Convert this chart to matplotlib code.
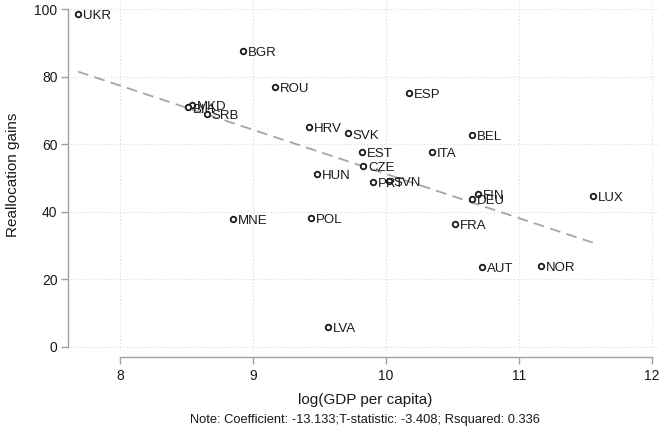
import numpy as np
import matplotlib
matplotlib.use("Agg")
import matplotlib.pyplot as plt

plt.rcParams['font.family'] = ['Liberation Sans', 'DejaVu Sans']

# country data: log GDP per capita vs reallocation gains
countries = ["UKR", "BGR", "ROU", "MKD", "BIH", "SRB", "ESP", "HRV", "SVK", "BEL",
             "EST", "ITA", "CZE", "HUN", "PRT", "SVN", "FIN", "DEU", "LUX", "MNE",
             "POL", "FRA", "AUT", "NOR", "LVA"]
log_gdp = [7.684, 8.925, 9.165, 8.539, 8.509, 8.652, 10.173, 9.421, 9.712, 10.647,
           9.822, 10.343, 9.830, 9.479, 9.900, 10.02, 10.689, 10.649, 11.554, 8.852,
           9.434, 10.519, 10.722, 11.165, 9.564]
gains = [98.5, 87.6, 76.9, 71.5, 70.9, 69.1, 75.1, 65.1, 63.2, 62.7,
         57.8, 57.6, 53.7, 51.3, 48.8, 49.2, 45.3, 43.8, 44.8, 37.8,
         38.1, 36.4, 23.8, 24.1, 6.0]

x = np.array(log_gdp)
y = np.array(gains)
slope, intercept = np.polyfit(x, y, 1)

fig = plt.figure(figsize=(6.6, 4.34), dpi=100)
ax = fig.add_axes([70/660, 84/434, 590/660, 350/434])

ax.set_xlim(7.624, 12.06)
ax.set_ylim(-0.9, 102.7)

# grid
for gx in [8, 9, 10, 11, 12]:
    ax.axvline(gx, color="#d9d9d9", lw=0.8, ls=(0, (1, 2)), zorder=0)
for gy in [0, 20, 40, 60, 80, 100]:
    ax.axhline(gy, color="#d9d9d9", lw=0.8, ls=(0, (1, 2)), zorder=0)

# fitted line
xs = np.array([x.min(), x.max()])
ax.plot(xs, intercept + slope * xs, color="#a6a6a6", lw=1.3, ls=(0, (6, 3.5)), zorder=1)

ax.scatter(x, y, s=16, facecolors="white", edgecolors="#1a1a1a", linewidths=1.3, zorder=3)
for c, xi, yi in zip(countries, x, y):
    ax.annotate(c, (xi, yi), xytext=(3.5, -1.5), textcoords="offset points",
                fontsize=9.5, color="#1a1a1a", va="center", ha="left", zorder=4)

for s in ["top", "right"]:
    ax.spines[s].set_visible(False)
ax.spines["left"].set_position(("outward", 1.5))
ax.spines["bottom"].set_position(("outward", 5))
ax.spines["left"].set_bounds(0, 100)
ax.spines["bottom"].set_bounds(8, 12)
for s in ["left", "bottom"]:
    ax.spines[s].set_color("#a0a0a0")
    ax.spines[s].set_linewidth(1.0)

ax.set_xticks([8, 9, 10, 11, 12])
ax.set_yticks([0, 20, 40, 60, 80, 100])
ax.tick_params(axis="both", colors="#a0a0a0", labelcolor="#1a1a1a", labelsize=10,
               length=5, width=1.0)
ax.tick_params(axis="y", pad=2.5)
ax.tick_params(axis="x", pad=4)

ax.set_xlabel("log(GDP per capita)", fontsize=11, color="#1a1a1a", labelpad=7)
ax.set_ylabel("Reallocation gains", fontsize=11, color="#1a1a1a", labelpad=10)

fig.text(365/660, 1 - 420/434, "Note: Coefficient: -13.133;T-statistic: -3.408; Rsquared: 0.336",
         ha="center", va="center", fontsize=9.3, color="#1a1a1a")

fig.savefig("out.png", dpi=100)
